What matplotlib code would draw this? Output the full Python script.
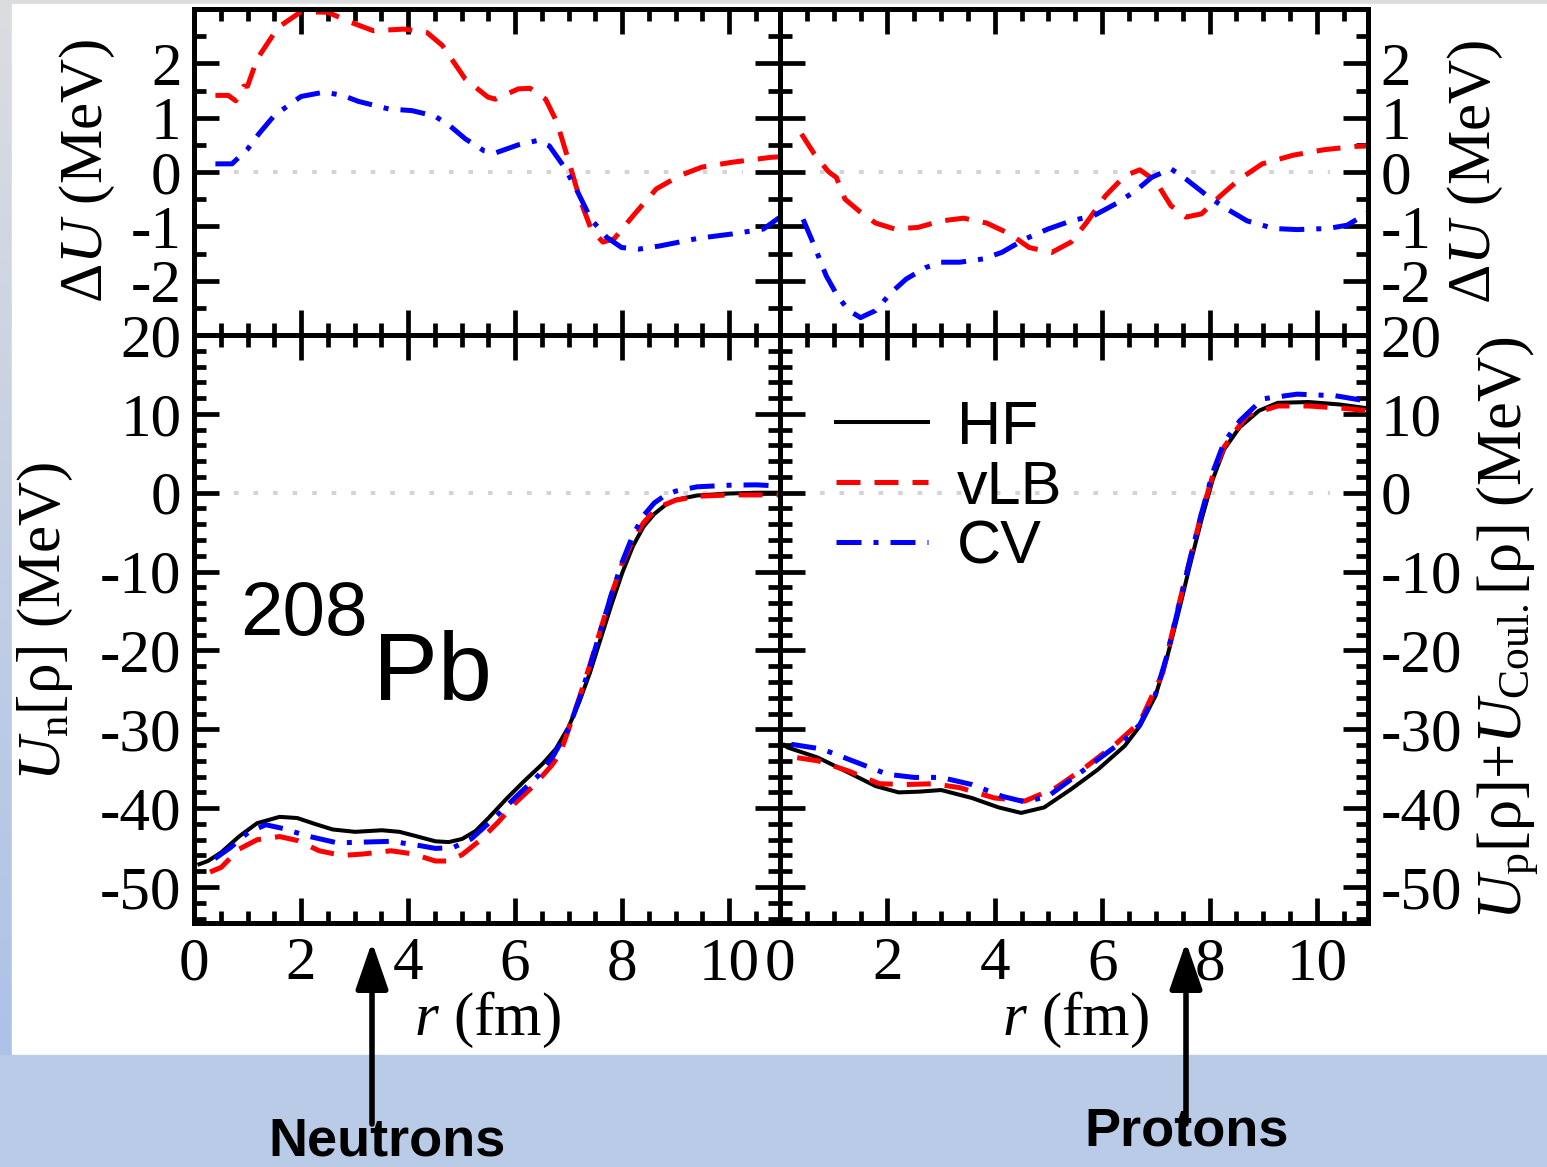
import matplotlib
matplotlib.use("Agg")
import matplotlib.pyplot as plt
from matplotlib.ticker import MultipleLocator, FixedLocator
from matplotlib.patches import Rectangle
import numpy as np

# ---------------- data ----------------
# Delta U (HF - model), neutrons
r_dn_vlb = [0.4, 0.64, 0.78, 0.93, 1.0, 1.18, 1.57, 2.0, 2.5, 2.92, 3.35, 3.92, 4.35, 4.64, 5.07,
            5.49, 5.63, 6.06, 6.28, 6.57, 6.78, 6.99, 7.21, 7.42, 7.64, 7.85, 8.21, 8.64, 9.07,
            9.49, 10.06, 10.78, 10.95]
du_n_vlb = [1.41, 1.41, 1.31, 1.58, 1.58, 2.08, 2.66, 2.95, 2.94, 2.76, 2.6, 2.63, 2.57, 2.33, 1.71,
            1.38, 1.34, 1.53, 1.54, 1.34, 0.92, 0.24, -0.5, -1.05, -1.29, -1.23, -0.8, -0.31, -0.07,
            0.09, 0.18, 0.27, 0.28]
r_dn_cv = [0.4, 0.71, 1.0, 1.21, 1.5, 2.0, 2.43, 2.78, 3.07, 3.64, 4.07, 4.5, 4.78, 5.07, 5.42,
           5.63, 6.06, 6.42, 6.64, 6.92, 7.14, 7.42, 7.71, 7.99, 8.31, 8.71, 9.42, 10.06, 10.64, 10.95]
du_n_cv = [0.15, 0.15, 0.42, 0.7, 1.04, 1.39, 1.47, 1.41, 1.3, 1.16, 1.13, 1.03, 0.85, 0.61, 0.39,
           0.35, 0.5, 0.58, 0.48, 0.09, -0.31, -0.87, -1.2, -1.39, -1.42, -1.36, -1.22, -1.14, -1.05, -0.83]

# Delta U, protons
r_dp_vlb = [0.4, 0.64, 0.89, 0.95, 1.05, 1.21, 1.5, 1.78, 2.14, 2.57, 3.0, 3.42, 3.85, 4.28, 4.64,
            5.06, 5.42, 5.71, 6.06, 6.42, 6.7, 6.99, 7.28, 7.56, 7.85, 8.2, 8.56, 8.98, 9.56, 10.13,
            10.7, 10.95]
du_p_vlb = [0.7, 0.33, 0.02, -0.03, -0.1, -0.5, -0.74, -0.94, -1.05, -1.02, -0.9, -0.85, -0.94, -1.14,
            -1.39, -1.48, -1.29, -0.93, -0.44, -0.07, 0.04, -0.16, -0.62, -0.83, -0.77, -0.44, -0.13,
            0.15, 0.31, 0.41, 0.47, 0.48]
r_dp_cv = [0.43, 0.64, 0.86, 1.07, 1.28, 1.5, 1.78, 2.07, 2.35, 2.71, 3.0, 3.35, 3.78, 4.13, 4.57,
           4.99, 5.42, 5.85, 6.28, 6.63, 6.92, 7.28, 7.56, 7.92, 8.27, 8.7, 9.2, 9.63, 10.2, 10.56, 10.95]
du_p_cv = [-0.87, -1.36, -1.91, -2.28, -2.55, -2.68, -2.55, -2.22, -1.97, -1.76, -1.66, -1.66, -1.6,
           -1.48, -1.23, -1.05, -0.9, -0.8, -0.57, -0.34, -0.1, 0.06, -0.13, -0.41, -0.65, -0.9, -1.04,
           -1.06, -1.04, -0.98, -0.75]

# Neutron potentials U_n
r_n_hf = [0.1, 0.26, 0.51, 0.84, 1.18, 1.6, 1.93, 2.26, 2.59, 3.01, 3.51, 3.84, 4.18, 4.51, 4.76,
          5.01, 5.26, 5.51, 5.84, 6.18, 6.51, 6.76, 7.0, 7.2, 7.4, 7.6, 7.8, 8.0, 8.2, 8.4, 8.6,
          8.8, 9.0, 9.4, 10.0, 10.5, 10.95]
u_n_hf = [-47.1, -46.7, -45.6, -43.6, -41.9, -41.1, -41.25, -42.0, -42.7, -43.0, -42.8, -43.0, -43.6,
          -44.2, -44.3, -43.9, -42.9, -41.2, -38.8, -36.5, -34.4, -32.5, -29.7, -26.5, -22.8, -18.5,
          -14.2, -10.2, -6.8, -4.3, -2.7, -1.6, -0.9, -0.35, -0.1, 0.0, 0.0]
r_n_vlb = [0.3, 0.51, 0.84, 1.18, 1.6, 1.93, 2.34, 2.76, 3.18, 3.68, 4.09, 4.51, 4.76, 5.01, 5.34,
           5.68, 6.01, 6.34, 6.68, 6.84, 7.0, 7.2, 7.4, 7.6, 7.8, 8.0, 8.2, 8.4, 8.6, 8.8, 9.0, 9.4,
           10.0, 10.5, 10.95]
u_n_vlb = [-48.1, -47.5, -45.2, -44.0, -43.6, -44.1, -45.4, -46.0, -45.8, -45.4, -45.8, -46.7, -46.7,
           -45.9, -44.1, -41.8, -39.3, -37.2, -34.6, -33.1, -30.0, -26.0, -21.8, -17.3, -12.9, -9.0,
           -6.0, -3.8, -2.3, -1.5, -0.95, -0.45, -0.28, -0.28, -0.28]
r_n_cv = [0.39, 0.68, 1.01, 1.34, 1.68, 2.1, 2.68, 3.18, 3.68, 4.18, 4.51, 4.84, 5.18, 5.59, 6.01,
          6.43, 6.72, 7.0, 7.2, 7.4, 7.6, 7.8, 8.0, 8.2, 8.4, 8.6, 8.8, 9.0, 9.4, 10.0, 10.5, 10.95]
u_n_cv = [-46.4, -45.0, -43.1, -42.1, -42.6, -43.5, -44.4, -44.3, -44.2, -44.7, -45.1, -45.0, -43.9,
          -41.4, -38.6, -35.9, -33.3, -29.9, -26.2, -22.0, -17.4, -12.9, -8.8, -5.4, -2.9, -1.3,
          -0.35, 0.2, 0.75, 0.95, 1.0, 0.85]

# Proton potentials U_p + U_Coul
r_p_hf = [0.08, 0.14, 0.71, 1.28, 1.78, 2.21, 2.6, 3.0, 3.57, 4.07, 4.49, 4.92, 5.42, 5.92, 6.42, 6.7,
          6.99, 7.2, 7.42, 7.63, 7.85, 8.06, 8.27, 8.56, 8.92, 9.27, 9.84, 10.41, 10.95]
u_p_hf = [-32.0, -32.3, -33.6, -35.5, -37.2, -38.0, -37.9, -37.7, -38.7, -39.9, -40.6, -39.9, -37.6,
          -35.1, -32.1, -29.6, -25.8, -21.1, -15.2, -9.3, -3.4, 1.7, 5.5, 8.3, 10.4, 11.4, 11.5, 11.2,
          10.7]
r_p_vlb = [0.32, 0.71, 1.28, 1.85, 2.35, 2.85, 3.35, 3.99, 4.56, 5.14, 5.71, 6.28, 6.7, 7.13, 7.42,
           7.63, 7.85, 8.06, 8.27, 8.5, 8.7, 9.27, 9.84, 10.49, 10.95]
u_p_vlb = [-33.6, -34.0, -35.3, -36.9, -37.0, -36.9, -37.4, -38.7, -39.1, -37.4, -34.7, -31.7, -29.1,
           -22.8, -14.4, -8.6, -2.6, 2.2, 5.8, 8.0, 9.8, 11.0, 11.0, 10.7, 10.4]
r_p_cv = [0.21, 0.78, 1.43, 2.0, 2.5, 3.0, 3.57, 4.14, 4.56, 4.99, 5.71, 6.42, 6.7, 6.99, 7.2, 7.42,
          7.63, 7.85, 8.06, 8.27, 8.56, 8.99, 9.63, 10.34, 10.95]
u_p_cv = [-31.9, -32.5, -34.2, -35.7, -36.1, -36.1, -37.0, -38.5, -39.2, -38.5, -34.9, -31.3, -29.4,
          -25.6, -20.8, -14.6, -8.6, -2.6, 2.6, 6.4, 9.1, 11.9, 12.5, 12.3, 11.6]

x_ticks = [0, 2, 4, 6, 8, 10]
du_ticks = [-2, -1, 0, 1, 2]
u_ticks = [-50, -40, -30, -20, -10, 0, 10, 20]
labels = ["HF", "vLB", "CV"]

# ---------------- style ----------------
plt.rcParams["font.family"] = ["Liberation Serif", "DejaVu Serif"]
plt.rcParams["mathtext.fontset"] = "custom"
plt.rcParams["mathtext.rm"] = "Liberation Serif"
plt.rcParams["mathtext.it"] = "Liberation Serif:italic"
plt.rcParams["mathtext.bf"] = "Liberation Serif:bold"
plt.rcParams["axes.unicode_minus"] = False

W, H, DPI = 1547, 1167, 100
fig = plt.figure(figsize=(W / DPI, H / DPI), dpi=DPI)
fig.patch.set_facecolor("white")

# background decoration
bg = fig.add_axes([0, 0, 1, 1], zorder=-10)
grad = np.linspace(0, 1, 256)[:, None, None]
top_c = np.array([0.86, 0.865, 0.88])
bot_c = np.array([0.66, 0.75, 0.91])
bg.imshow(top_c + (bot_c - top_c) * grad * np.ones((1, 2, 1)), extent=[0, W, H, 0], aspect="auto")
bg.add_patch(Rectangle((12, 4), W - 12, 1055 - 4, color="white", zorder=1))
bg.add_patch(Rectangle((0, 1055), W, H - 1055, color="#b9cbe7", zorder=1))
bg.set_xlim(0, W)
bg.set_ylim(H, 0)
bg.axis("off")

for xa, txt, tx, ty in [(372, "Neutrons", 387, 1142), (1186, "Protons", 1187, 1132)]:
    bg.annotate("", xy=(xa, 942), xytext=(xa, 1124),
                arrowprops=dict(arrowstyle="-|>,head_length=1.3,head_width=0.45", color="black",
                                lw=4, mutation_scale=22, shrinkA=0, shrinkB=0), zorder=5)
    bg.text(tx, ty, txt, ha="center", va="center", fontsize=39,
            fontweight="bold", family="Liberation Sans", zorder=6)


def px_axes(x0, y0, x1, y1):
    return fig.add_axes([x0 / W, 1 - y1 / H, (x1 - x0) / W, (y1 - y0) / H])


XMAX = 10.95
axTL = px_axes(194, 9, 780, 335)
axTR = px_axes(780, 9, 1368, 335)
axBL = px_axes(194, 335, 780, 923)
axBR = px_axes(780, 335, 1368, 923)


def style(ax, ylim, yticks, yminor, right, bottom):
    ax.set_xlim(0, XMAX)
    ax.set_ylim(*ylim)
    ax.xaxis.set_major_locator(FixedLocator(x_ticks))
    ax.xaxis.set_minor_locator(MultipleLocator(0.5))
    ax.yaxis.set_major_locator(FixedLocator(yticks))
    ax.yaxis.set_minor_locator(MultipleLocator(yminor))
    ax.tick_params(which="both", direction="in", top=True, right=True, bottom=True, left=True,
                   width=3.4, labelsize=44, color="black")
    ax.tick_params(which="major", length=18)
    ax.tick_params(which="minor", length=8.5)
    ax.tick_params(axis="y", labelleft=not right, labelright=right, pad=9)
    ax.tick_params(axis="x", labelbottom=bottom, pad=10)
    for s in ax.spines.values():
        s.set_linewidth(3.6)
    ax.hlines(0, 0.75, 10.25, colors="#d4d4d4", lw=2.9, linestyles=(0, (1.15, 3.7)), zorder=1)


RED_LS = (0, (4.8, 2.8))
BLUE_LS = (0, (5.0, 2.4, 1.0, 2.4))

style(axTL, (-3, 3), du_ticks, 0.5, False, False)
style(axTR, (-3, 3), du_ticks, 0.5, True, False)
style(axBL, (-54.56, 20), u_ticks, 2, False, True)
style(axBR, (-54.56, 20), u_ticks, 2, True, True)

axTL.plot(r_dn_vlb, du_n_vlb, color="#ff0000", lw=3.6, ls=RED_LS)
axTL.plot(r_dn_cv, du_n_cv, color="#0000ff", lw=3.6, ls=BLUE_LS)
axTR.plot(r_dp_vlb, du_p_vlb, color="#ff0000", lw=3.6, ls=RED_LS)
axTR.plot(r_dp_cv, du_p_cv, color="#0000ff", lw=3.6, ls=BLUE_LS)

axBL.plot(r_n_hf, u_n_hf, color="black", lw=2.9)
axBL.plot(r_n_vlb, u_n_vlb, color="#ff0000", lw=3.6, ls=RED_LS)
axBL.plot(r_n_cv, u_n_cv, color="#0000ff", lw=3.6, ls=BLUE_LS)

h1, = axBR.plot(r_p_hf, u_p_hf, color="black", lw=2.9)
h2, = axBR.plot(r_p_vlb, u_p_vlb, color="#ff0000", lw=3.6, ls=RED_LS)
h3, = axBR.plot(r_p_cv, u_p_cv, color="#0000ff", lw=3.6, ls=BLUE_LS)

leg = axBR.legend([h1, h2, h3], labels, loc="upper left", bbox_to_anchor=(0.095, 0.89),
                  frameon=False, borderpad=0, borderaxespad=0, handlelength=1.5,
                  handletextpad=0.48, labelspacing=0.05,
                  prop={"family": "Liberation Sans", "size": 44})

# axis labels
def ftxt(x, y, s, **kw):
    fig.text(x / W, 1 - y / H, s, **kw)

ftxt(87, 171, r"Δ$U$ (MeV)", rotation=90, ha="center", va="center", fontsize=44)
ftxt(1475, 172, r"Δ$U$ (MeV)", rotation=90, ha="center", va="center", fontsize=44)
ftxt(45, 621, r"$U_{\rm n}$[ρ] (MeV)", rotation=90, ha="center", va="center", fontsize=44)
ftxt(1507, 628, r"$U_{\rm p}$[ρ]+$U_{\rm Coul.}$[ρ] (MeV)", rotation=90, ha="center",
     va="center", fontsize=45)
ftxt(487, 1020, r"$r$ (fm)", ha="center", va="center", fontsize=44)
ftxt(1075, 1020, r"$r$ (fm)", ha="center", va="center", fontsize=44)

ftxt(240, 635, "208", ha="left", va="baseline", fontsize=55, family="Liberation Sans")
ftxt(373, 700, "Pb", ha="left", va="baseline", fontsize=70, family="Liberation Sans")

fig.savefig("out.png", dpi=DPI, facecolor=fig.get_facecolor())
